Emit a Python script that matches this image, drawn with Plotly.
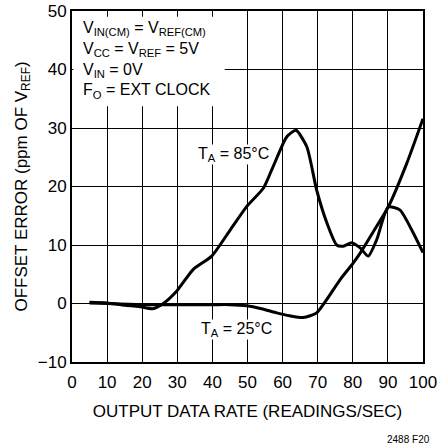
import plotly.graph_objects as go

# offset error vs output data rate
x_85 = [5, 10, 15, 19, 23, 26, 29.8, 34.5, 39.8, 45, 49.8, 54.5, 57.3, 61.2, 63.8,
        66.9, 69.7, 72.6, 75.4, 77.3, 79.7, 82.1, 84.4, 86.8, 90.1, 93.4, 97.2, 100]
y_85 = [0.2, 0.1, -0.3, -0.5, -0.9, 0, 2.1, 5.8, 8.1, 12.5, 16.6, 19.7, 23.4, 28.5, 29.6,
        26.8, 19.4, 13.8, 10, 9.8, 10.4, 9.5, 8.1, 10.9, 16.5, 16, 12.1, 8.7]

x_25 = [5, 10, 20, 30, 40, 45, 49.8, 54, 58.3, 62, 65.9, 69.7, 72.6, 76.4, 80.1,
        82.1, 86.8, 90.1, 95.4, 100]
y_25 = [0.1, 0, -0.2, -0.2, -0.2, -0.2, -0.4, -0.9, -1.6, -2.1, -2.4, -1.6, 0.7, 4.1, 6.9,
        8.6, 13.2, 16.5, 24, 31.6]

x_ticks = list(range(0, 101, 10))
y_ticks = [-10, 0, 10, 20, 30, 40, 50]

FONT = "Liberation Sans, Arial"

fig = go.Figure()
for xs, ys in [(x_85, y_85), (x_25, y_25)]:
    fig.add_trace(go.Scatter(x=xs, y=ys, mode="lines",
                             line=dict(color="black", width=3, shape="spline", smoothing=0.6),
                             showlegend=False, hoverinfo="skip"))

# white box over the gridlines where the conditions text sits (nothing else is drawn there)
fig.add_shape(type="rect", x0=0.4, x1=43.5, y0=33.7, y1=49.0, layer="above",
              fillcolor="white", line=dict(width=0))

cond = ("V<sub>IN(CM)</sub> = V<sub>REF(CM)</sub><br>"
        "V<sub>CC</sub> = V<sub>REF</sub> = 5V<br>"
        "V<sub>IN</sub> = 0V<br>"
        "F<sub>O</sub> = EXT CLOCK")
fig.add_annotation(x=2.6, y=49.0, text=cond, showarrow=False, xanchor="left", yanchor="top",
                   align="left", font=dict(size=16, family=FONT, color="black"))
fig.add_annotation(x=46, y=25.4, text="T<sub>A</sub> = 85°C", showarrow=False,
                   font=dict(size=16, family=FONT, color="black"),
                   bgcolor="white", borderpad=0)
fig.add_annotation(x=47, y=-4.5, text="T<sub>A</sub> = 25°C", showarrow=False,
                   font=dict(size=16, family=FONT, color="black"),
                   bgcolor="white", borderpad=0)
fig.add_annotation(x=1.026, y=-0.2, xref="paper", yref="paper", text="2488 F20",
                   showarrow=False, xanchor="right", yanchor="top",
                   font=dict(size=10, family=FONT, color="black"))

axis_common = dict(showline=True, linecolor="black", linewidth=2, mirror=True,
                   showgrid=True, gridcolor="black", gridwidth=1, zeroline=False,
                   automargin=False, ticks="", ticklabeloverflow="allow",
                   tickfont=dict(size=17, family=FONT, color="black"))
fig.update_xaxes(range=[0, 100], tickvals=x_ticks, ticklabelstandoff=4,
                 title=dict(text="OUTPUT DATA RATE (READINGS/SEC)",
                            font=dict(size=17, family=FONT, color="black"), standoff=14),
                 **axis_common)
fig.update_yaxes(range=[-10, 50], tickvals=y_ticks,
                 title=dict(text="OFFSET ERROR (ppm OF V<sub>REF</sub>)",
                            font=dict(size=17, family=FONT, color="black"), standoff=6),
                 **axis_common)

fig.update_layout(width=437, height=445, margin=dict(l=72, r=14, t=11, b=83),
                  plot_bgcolor="white", paper_bgcolor="white")

# drop the browser's default page margin so the figure sits at the window corner
fig.write_html("out.html", config={"displayModeBar": False},
               post_script="document.body.style.margin='0';")
